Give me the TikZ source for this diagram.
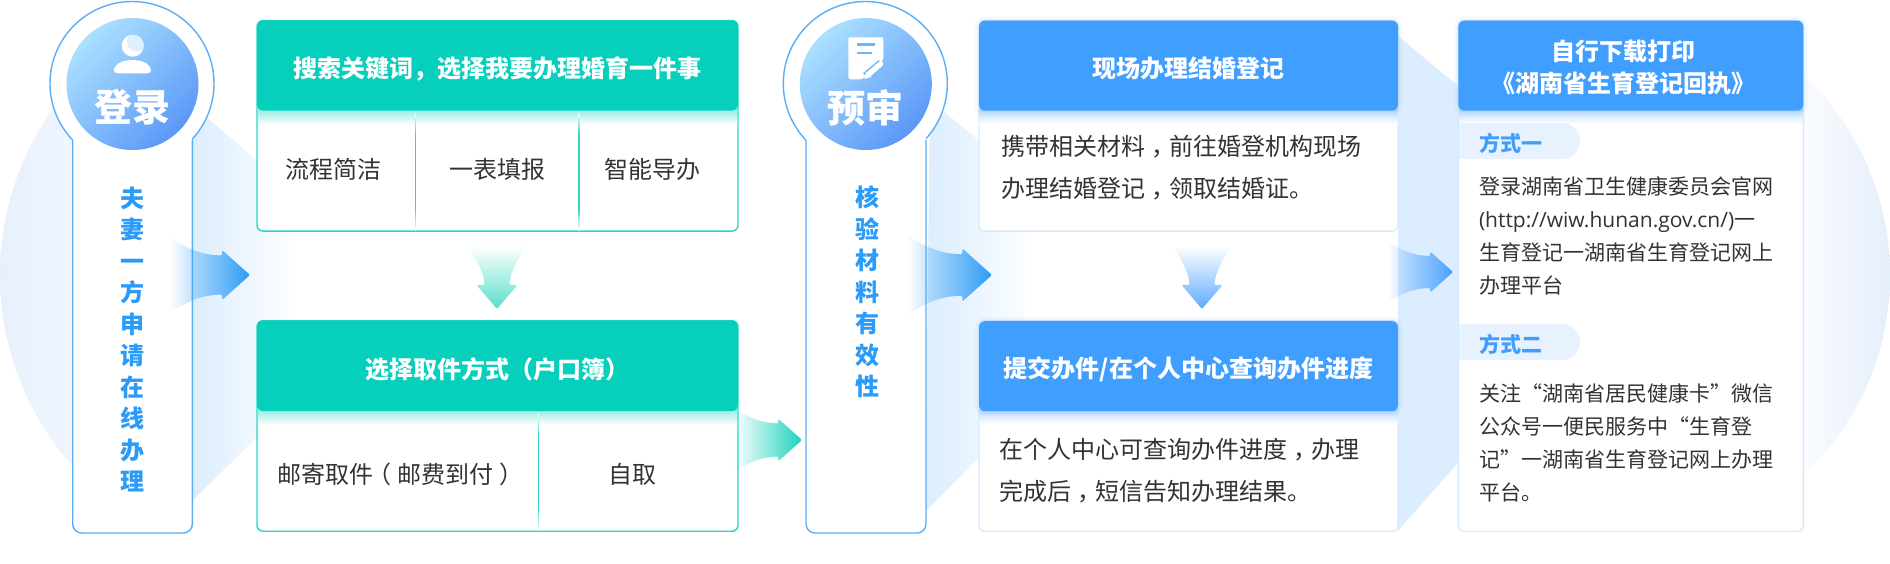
\documentclass[tikz,border=0pt]{standalone}
\usepackage{fontspec}
\setmainfont{Noto Sans CJK SC}
\newfontfamily\urlfont{Open Sans}
\usetikzlibrary{fadings}
\definecolor{tealmain}{HTML}{06D0BB}
\definecolor{bluemain}{HTML}{409EFF}
\definecolor{tealline}{HTML}{2AD5C3}
\definecolor{blueline}{HTML}{D6E9FD}
\definecolor{pillline}{HTML}{5AAEF6}
\definecolor{vtext}{HTML}{2A9BF8}
\definecolor{darktext}{HTML}{333333}
\definecolor{funnelblue}{HTML}{DBEDFE}
\definecolor{tagfill}{HTML}{E8F2FE}
\definecolor{discA}{HTML}{ABE0FF}
\definecolor{discB}{HTML}{5B98F7}
\definecolor{bgleftA}{HTML}{E7F0FC}
\definecolor{bgleftB}{HTML}{F6FAFF}
\definecolor{bgrightB}{HTML}{E5EEFB}
\definecolor{crescent}{HTML}{DEEFFF}
\definecolor{docline}{HTML}{6FB4FB}
\definecolor{halo}{HTML}{7DB7F9}
\definecolor{arrowblue}{HTML}{2A9BF8}
\definecolor{arrowblueC}{HTML}{48A0FF}
\definecolor{arrowteal}{HTML}{1CD2BC}
\definecolor{downteal}{HTML}{50DCC8}
\definecolor{downblue}{HTML}{54A6FF}
\tikzfading[name=faderight, left color=transparent!100, middle color=transparent!82, right color=transparent!0]
\tikzfading[name=fadedown, top color=transparent!100, middle color=transparent!65, bottom color=transparent!5]
\tikzfading[name=fadeaway, left color=transparent!0, right color=transparent!100]
\tikzset{
  hdtext/.style={inner sep=0pt, outer sep=0pt, text height=21.1pt, text depth=2.9pt, text=white, font=\fontsize{24}{24}\selectfont\bfseries},
  hdblock/.style={inner sep=0pt, outer sep=0pt, align=center, text=white, font=\fontsize{24}{32}\selectfont\bfseries},
  itemtext/.style={inner sep=0pt, outer sep=0pt, text height=21.1pt, text depth=2.9pt, text=darktext, font=\fontsize{24}{24}\selectfont},
  paraA/.style={inner sep=0pt, outer sep=0pt, align=left, anchor=north west, text=darktext, font=\fontsize{24}{42}\selectfont},
  paraB/.style={inner sep=0pt, outer sep=0pt, align=left, anchor=north west, text=darktext, font=\fontsize{21}{33}\selectfont},
  tagtext/.style={inner sep=0pt, outer sep=0pt, text height=18.5pt, text depth=2.5pt, text=bluemain, font=\fontsize{21}{21}\selectfont\bfseries},
  vstack/.style={inner sep=0pt, outer sep=0pt, align=center, text=vtext, font=\fontsize{24}{31.5}\selectfont\bfseries},
  disctext/.style={inner sep=0pt, outer sep=0pt, text height=33.4pt, text depth=4.6pt, text=white, font=\fontsize{38}{38}\selectfont\bfseries},
  boxbody/.style={rounded corners=6pt, fill=white, inner sep=0pt, outer sep=0pt},
  tealbody/.style={boxbody, draw=tealline, line width=1.4pt},
  bluebody/.style={boxbody, draw=blueline, line width=1.4pt},
  tealhead/.style={rounded corners=6pt, fill=tealmain, inner sep=0pt, outer sep=0pt},
  bluehead/.style={rounded corners=6pt, fill=bluemain, inner sep=0pt, outer sep=0pt,
     preaction={draw=bluemain, draw opacity=.05, line width=9pt},
     preaction={draw=bluemain, draw opacity=.06, line width=4pt}},
  pillstroke/.style={draw=pillline, line width=1.4pt},
  disc/.style={left color=discA, right color=discB, shading angle=45}
}
% side arrow: #1 tip, #2 colour, #3 scale
\newcommand{\sidearrow}[3]{%
  \begin{scope}[shift={(#1)}, x=#3pt, y=-#3pt]
    \fill[#2, path fading=faderight, rounded corners=1.2pt]
      (-80,-38) .. controls (-60,-24) and (-45,-20) .. (-28,-19.5)
      -- (-28,-25) -- (0,0) -- (-28,25) -- (-28,19.5)
      .. controls (-45,20) and (-60,24) .. (-80,38) -- cycle;
  \end{scope}}
% down arrow: #1 tip, #2 colour
\newcommand{\downarrowshape}[2]{%
  \begin{scope}[shift={(#1)}]
    \fill[#2, path fading=fadedown, rounded corners=1.2pt]
      (-29,-63) .. controls (-20,-48) and (-13,-36) .. (-12.5,-24)
      -- (-20.5,-24) -- (0,0) -- (20.5,-24) -- (12.5,-24)
      .. controls (13,-36) and (20,-48) .. (29,-63) -- cycle;
  \end{scope}}
% thin vertical divider fading at both ends: #1 x, #2 top y (height 118)
\newcommand{\fadediv}[2]{%
  \foreach \k in {0,...,23} {
    \pgfmathsetmacro{\tint}{min(100,170*sin(180*(\k+0.5)/24))}
    \fill[tealline!\tint!white] (#1-0.75,#2+\k*4.9) rectangle (#1+0.75,#2+\k*4.9+5);
  }}
\begin{document}
\begin{tikzpicture}[x=1pt,y=-1pt]
\useasboundingbox (0,0) rectangle (1890,563);

% pale discs at both ends
\begin{scope}
  \clip (288,275) circle (288pt);
  \shade[left color=bgleftA, right color=bgleftB] (0,0) rectangle (140,563);
\end{scope}
\begin{scope}
  \clip (1615,275) circle (275pt);
  \shade[left color=white, right color=bgrightB] (1780,0) rectangle (1890,563);
\end{scope}

% pale blue funnels
\fill[funnelblue, path fading=fadeaway] (192,104) -- (300,198) -- (300,395) -- (190,503) -- cycle;
\shade[left color=funnelblue, middle color=funnelblue!85!white, right color=funnelblue!12!white] (930,100) -- (1025,179) -- (1025,411) -- (925,512) -- cycle;
\fill[funnelblue] (1398,36) -- (1470,96) -- (1470,449) -- (1398,531) -- cycle;

% login pill
\draw[pillstroke, fill=white] (132,83.5) circle (82pt);
\fill[white] (72.7,138) rectangle (192.4,533);
\draw[pillstroke, rounded corners=9pt] (72.7,140) -- (72.7,533) -- (192.4,533) -- (192.4,140);
\shade[disc] (132.5,84) circle (66pt);
% person icon
\fill[white] (132.7,45.7) circle (11pt);
\begin{scope}
  \clip (132.7,45.7) circle (11pt);
  \fill[crescent] (137,41.5) circle (10pt);
\end{scope}
\fill[white] (118,73.3) -- (147,73.3) .. controls (151,73.3) and (152,70) .. (150,67)
  .. controls (147,62) and (140,60) .. (132.5,60) .. controls (125,60) and (118,62) .. (115,67)
  .. controls (113,70) and (114,73.3) .. (118,73.3) -- cycle;
\node[disctext] (loginT) at (132,107.5) {登录};
\node[vstack] (loginV) at (132.3,339.5) {夫\\妻\\一\\方\\申\\请\\在\\线\\办\\理};

% pre-review pill
\draw[pillstroke, fill=white] (865.3,83.5) circle (82pt);
\fill[white] (806,138) rectangle (926,533);
\draw[pillstroke, rounded corners=9pt] (806,140) -- (806,533) -- (926,533) -- (926,140);
\shade[disc] (865.8,84) circle (66pt);
% document icon
\fill[white, rounded corners=1.5pt] (848.3,37.3) -- (883.3,37.3) -- (883.3,60) -- (862,79.3) -- (848.3,79.3) -- cycle;
\draw[docline, line width=2.2pt] (857.3,44.4) -- (875,44.4);
\draw[docline, line width=2.2pt] (857.3,53.3) -- (871.7,53.3);
\draw[halo, line width=9pt] (866,76.5) -- (881.5,63.5);
\draw[white, line width=5.4pt, line cap=round] (869,74) -- (880.5,64);
\fill[white] (864.5,79) -- (866,71.5) -- (871.5,77) -- cycle;
\node[disctext] (reviewT) at (865,108) {预审};
\node[vstack] (reviewV) at (867,292) {核\\验\\材\\料\\有\\效\\性};

% teal column
\node[tealbody, minimum width=481pt, minimum height=210.5pt] (bodyA) at (497.5,125.8) {};
\node[tealbody, minimum width=481pt, minimum height=210.5pt] (bodyB) at (497.5,426) {};
\shade[top color=tealmain!45!white, bottom color=white] (258,108) rectangle (737,125);
\shade[top color=tealmain!45!white, bottom color=white] (258,408) rectangle (737,425);
\node[tealhead, minimum width=481pt, minimum height=90pt] (headA) at (497.5,65.5) {};
\node[tealhead, minimum width=481pt, minimum height=90.5pt] (headB) at (497.5,365.8) {};
\fadediv{415.5}{113}
\fadediv{579}{113}
\fadediv{538.5}{413}

% blue column
\node[bluebody, minimum width=419pt, minimum height=210.5pt] (bodyC) at (1188.5,125.8) {};
\node[bluebody, minimum width=419pt, minimum height=210.5pt] (bodyD) at (1188.5,426) {};
\shade[top color=bluemain!40!white, bottom color=white] (979.5,108) rectangle (1397.5,124);
\shade[top color=bluemain!40!white, bottom color=white] (979.5,408) rectangle (1397.5,424);
\node[bluehead, minimum width=419pt, minimum height=90pt] (headC) at (1188.5,65.7) {};
\node[bluehead, minimum width=419pt, minimum height=90pt] (headD) at (1188.5,366.2) {};

% last column
\node[bluebody, minimum width=345pt, minimum height=511pt] (bodyE) at (1630.8,276) {};
\shade[top color=bluemain!40!white, bottom color=white] (1459,108) rectangle (1802.6,124);
\node[bluehead, minimum width=345pt, minimum height=90pt] (headE) at (1630.8,65.7) {};
\fill[tagfill] (1459,123) [rounded corners=18pt] -- (1580,123) -- (1580,159) [sharp corners] -- (1459,159) -- cycle;
\fill[tagfill] (1459,324) [rounded corners=18pt] -- (1580,324) -- (1580,360) [sharp corners] -- (1459,360) -- cycle;

% arrows
\coordinate (tipA) at (250,275);
\coordinate (tipB) at (992,275);
\coordinate (tipC) at (1453,272);
\coordinate (tipD) at (802,440);
\coordinate (tipE) at (497,309);
\coordinate (tipF) at (1202,309);
\sidearrow{tipA}{arrowblue}{1}
\sidearrow{tipB}{arrowblue}{1.06}
\sidearrow{tipC}{arrowblueC}{0.82}
\sidearrow{tipD}{arrowteal}{0.85}
\downarrowshape{tipE}{downteal}
\downarrowshape{tipF}{downblue}

% texts
\node[hdtext] (tA) at (497.5,68) {搜索关键词，选择我要办理婚育一件事};
\node[itemtext] (iA1) at (333,169) {流程简洁};
\node[itemtext] (iA2) at (497,169) {一表填报};
\node[itemtext] (iA3) at (652,169) {智能导办};
\node[hdtext] (tB) at (497.5,369) {选择取件方式（户口簿）};
\node[itemtext] (iB1) at (397,474) {邮寄取件\makebox[24pt][l]{\hspace{-6pt}（}邮费到付\makebox[24pt][l]{\hspace{6pt}）}};
\node[itemtext] (iB2) at (632.6,474) {自取};
\node[hdtext] (tC) at (1188.5,68) {现场办理结婚登记};
\node[hdtext] (tD) at (1188.5,368) {提交办件/在个人中心查询办件进度};
\newcommand{\ctrcomma}{\makebox[24pt][l]{\hspace{7pt}，}}
\node[paraA] (pC) at (1001,135) {携带相关材料\ctrcomma 前往婚登机构现场\\办理结婚登记\ctrcomma 领取结婚证。};
\node[paraA] (pD) at (999,438.6) {在个人中心可查询办件进度\ctrcomma 办理\\完成后\ctrcomma 短信告知办理结果。};
\node[hdblock] (tE) at (1623.5,67.5) {自行下载打印\\《湖南省生育登记回执》};
\node[tagtext] (tag1) at (1511,143) {方式一};
\node[tagtext] (tag2) at (1511,344) {方式二};
\node[paraB] (pE1) at (1479,177) {登录湖南省卫生健康委员会官网\\{\urlfont (http://wiw.hunan.gov.cn/)}一\\生育登记一湖南省生育登记网上\\办理平台};
\node[paraB] (pE2) at (1479,384) {关注“湖南省居民健康卡”微信\\公众号一便民服务中“生育登\\记”一湖南省生育登记网上办理\\平台。};
\end{tikzpicture}
\end{document}
